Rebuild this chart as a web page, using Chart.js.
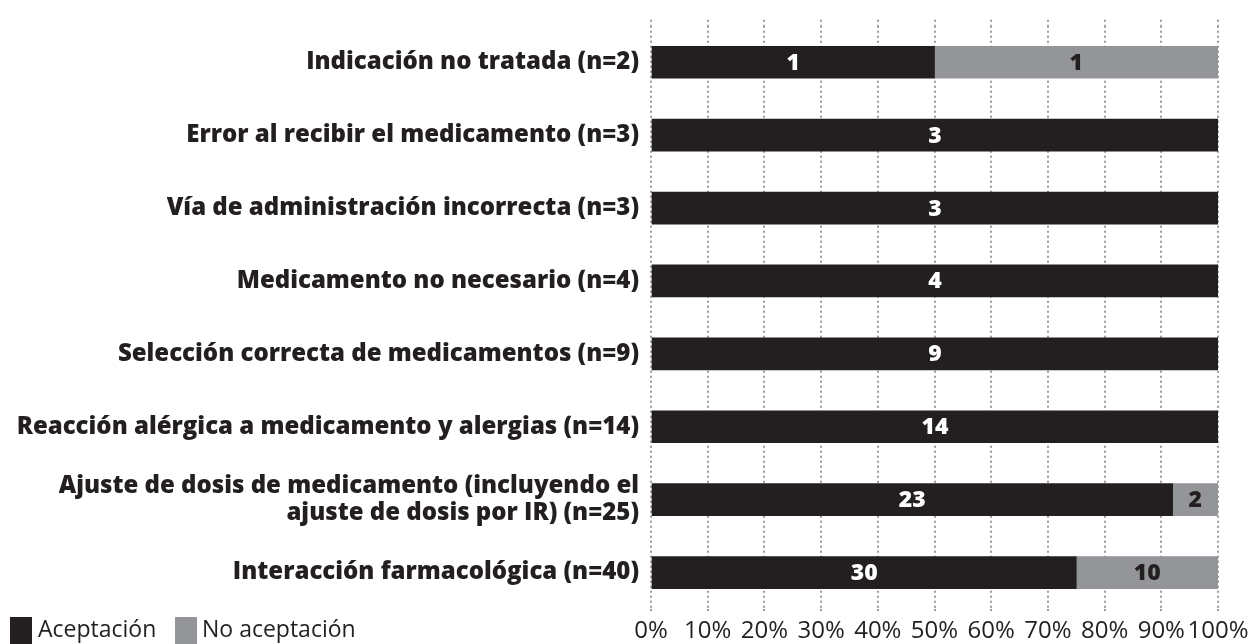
<!DOCTYPE html>
<html>
<head>
<meta charset="utf-8">
<script src="https://cdn.jsdelivr.net/npm/chart.js@4.4.1/dist/chart.umd.min.js"></script>
<style>
  html, body { margin: 0; padding: 0; background: #fff; }
  #wrap { position: relative; width: 1252px; height: 644px; overflow: hidden; }
  .sw { position: absolute; width: 22px; height: 27px; top: 617px; }
  .lg { position: absolute; top: 615px; font-family: 'Open Sans', sans-serif; font-size: 23px;
        line-height: 27px; color: #231f20; white-space: nowrap; }
</style>
</head>
<body>
<div id="wrap">
  <canvas id="chart" width="1252" height="644"></canvas>
  <span class="sw" style="left:10px;background:#231f20"></span>
  <span class="lg" style="left:38px">Aceptación</span>
  <span class="sw" style="left:175px;background:#939598"></span>
  <span class="lg" style="left:202px">No aceptación</span>
</div>
<script>
// ── Data ─────────────────────────────────────────────────────
const categories = [
  'Indicación no tratada (n=2)',
  'Error al recibir el medicamento (n=3)',
  'Vía de administración incorrecta (n=3)',
  'Medicamento no necesario (n=4)',
  'Selección correcta de medicamentos (n=9)',
  'Reacción alérgica a medicamento y alergias (n=14)',
  ['Ajuste de dosis de medicamento (incluyendo el', 'ajuste de dosis por IR) (n=25)'],
  'Interacción farmacológica (n=40)'
];
const accepted    = [1, 3, 3, 4, 9, 14, 23, 30];
const notAccepted = [1, 0, 0, 0, 0, 0, 2, 10];
const xTicks = [0, 10, 20, 30, 40, 50, 60, 70, 80, 90, 100];

const DARK = '#231f20';
const GREY = '#939598';
const GRID = '#9a9a9a';

const totals = accepted.map((a, i) => a + notAccepted[i]);
const pct = arr => arr.map((v, i) => v / totals[i] * 100);

// value labels inside bars
const barLabels = {
  id: 'barLabels',
  afterDatasetsDraw(chart) {
    const ctx = chart.ctx;
    ctx.save();
    ctx.font = '800 23px "Open Sans", sans-serif';
    ctx.textAlign = 'center';
    ctx.textBaseline = 'middle';
    chart.data.datasets.forEach((ds, di) => {
      chart.getDatasetMeta(di).data.forEach((bar, i) => {
        const raw = ds.counts[i];
        if (!raw) return;
        const p = bar.getProps(['x', 'base', 'y'], true);
        ctx.fillStyle = di === 0 ? '#ffffff' : DARK;
        ctx.fillText(raw, (p.x + p.base) / 2, p.y + 1);
      });
    });
    ctx.restore();
  }
};

// extend the dotted gridlines a little above the plot area
const gridTop = {
  id: 'gridTop',
  beforeDatasetsDraw(chart) {
    const { ctx, chartArea, scales } = chart;
    ctx.save();
    ctx.strokeStyle = GRID;
    ctx.lineWidth = 2;
    ctx.setLineDash([2, 3]);
    xTicks.forEach(t => {
      const x = Math.round(scales.x.getPixelForValue(t));
      ctx.beginPath();
      ctx.moveTo(x, chartArea.top - 6);
      ctx.lineTo(x, chartArea.top);
      ctx.stroke();
    });
    ctx.restore();
  }
};

new Chart(document.getElementById('chart'), {
  type: 'bar',
  data: {
    labels: categories,
    datasets: [
      { label: 'Aceptación', data: pct(accepted), counts: accepted, backgroundColor: DARK, barThickness: 32 },
      { label: 'No aceptación', data: pct(notAccepted), counts: notAccepted, backgroundColor: GREY, barThickness: 32 }
    ]
  },
  options: {
    indexAxis: 'y',
    responsive: false,
    animation: false,
    layout: { padding: { top: 21, right: 34, bottom: 0, left: 0 } },
    plugins: { legend: { display: false }, tooltip: { enabled: false } },
    scales: {
      x: {
        stacked: true, min: 0, max: 100,
        afterBuildTicks: s => { s.ticks = xTicks.map(v => ({ value: v })); },
        afterFit: s => { s.height = 35; },
        border: { display: false, dash: [2, 3] },
        grid: { color: GRID, lineWidth: 2, tickLength: 5,
                tickColor: GRID, tickBorderDash: [2, 3], tickWidth: 2 },
        ticks: { padding: 3, color: DARK, font: { family: 'Open Sans', size: 24 },
                 callback: v => v + '%', maxRotation: 0, autoSkip: false }
      },
      y: {
        stacked: true,
        afterFit: s => { s.width = 651; },
        border: { display: false },
        grid: { display: false, drawTicks: false },
        ticks: { padding: 12, color: DARK, font: { family: 'Open Sans', size: 24, weight: 800, lineHeight: 1.15 } }
      }
    }
  },
  plugins: [gridTop, barLabels]
});
</script>
</body>
</html>
